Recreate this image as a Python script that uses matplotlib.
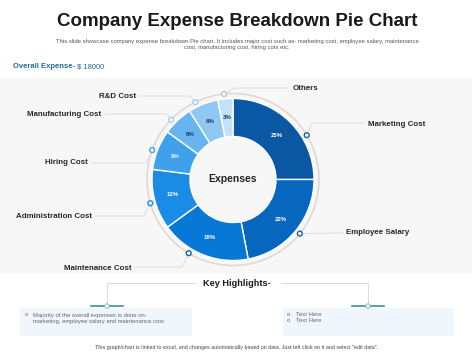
import numpy as np
import matplotlib
matplotlib.use('Agg')
import matplotlib.pyplot as plt
from matplotlib.patches import Rectangle, Circle

plt.rcParams['font.family'] = ['Liberation Sans', 'DejaVu Sans']

# data, clockwise from 12 o'clock
categories = ['Marketing Cost', 'Employee Salary', 'Maintenance Cost', 'Administration Cost',
              'Hiring Cost', 'Manufacturing Cost', 'R&D Cost', 'Others']
shares = [25, 22, 18, 12, 8, 6, 6, 3]
total_expense = 18000
colors = ['#0a58a3', '#0766bd', '#0878d6', '#1a8ce6', '#3fa0ec', '#66b4f0', '#90c8f4', '#c3e1f8']
pct_colors = ['white', 'white', 'white', 'white', '#eaf4fc', '#1d3b5e', '#1d3b5e', '#1d3b5e']

W, H = 474, 355
def Y(y):
    # pixel-from-top -> axes coordinate
    return H - y

cx, cy = 233, Y(179.5)
R, R_in, R_ring = 81, 43, 86

# label layout: dot angle (deg clockwise from top), elbow, line end, text anchor
dot_ang = [59, 129, 211, 254, 290, 314, 334, 354]
elbows = [(312, 123), None, (182, 267), (144, 216), (146, 163), (167, 114), (190, 96), (235, 88)]
line_end = [(365, 123), (343, 233), (134, 267), (95, 216), (91, 163), (105, 114), (139, 96), (288, 88)]
text_pos = [(368, 124, 'left'), (346, 233, 'left'), (132, 268, 'right'), (92, 217, 'right'),
            (88, 163, 'right'), (101, 115, 'right'), (136, 96, 'right'), (293, 88, 'left')]

fig = plt.figure(figsize=(W / 100, H / 100), dpi=100)
ax = fig.add_axes([0, 0, 1, 1])

# grey panel behind chart
ax.add_patch(Rectangle((0, Y(273)), 472, 195, color='#f7f7f7', lw=0, zorder=0))

wedges, texts, autotexts = ax.pie(
    shares, colors=colors, startangle=90, counterclock=False, radius=R,
    center=(cx, cy), wedgeprops=dict(width=R - R_in, edgecolor='white', linewidth=1),
    autopct=lambda p: f'{p:.0f}%', pctdistance=(R + R_in) / 2 / R,
    textprops=dict(fontsize=4.4, fontweight='bold'))
for t, c in zip(autotexts, pct_colors):
    t.set_color(c)

ax.add_patch(Circle((cx, cy), R_ring, fill=False, ec='#e2d8d2', lw=1.2, zorder=1))
ax.text(cx, cy, 'Expenses', ha='center', va='center', fontsize=7.5, fontweight='bold', color='#222222')

for i, name in enumerate(categories):
    a = np.deg2rad(dot_ang[i])
    dx, dy = cx + R_ring * np.sin(a), cy + R_ring * np.cos(a)
    pts = [(dx, dy)]
    if elbows[i] is not None:
        pts.append((elbows[i][0], Y(elbows[i][1])))
    pts.append((line_end[i][0], Y(line_end[i][1])))
    xs, ys = zip(*pts)
    ax.plot(xs, ys, color='#dcdcdc', lw=0.7, zorder=1)
    ec = colors[i] if i < 5 else '#a9cbe6'
    if i < 3:
        ec = '#1d5f96'
    ax.add_patch(Circle((dx, dy), 2.4, fc='white', ec=ec, lw=1.0, zorder=5))
    tx, ty, ha = text_pos[i]
    ax.text(tx, Y(ty), name, ha=ha, va='center', fontsize=5.7, fontweight='bold', color='#262626')

# header
ax.text(W / 2, Y(22), 'Company Expense Breakdown Pie Chart', ha='center', va='center',
        fontsize=13.5, fontweight='bold', color='#1a1a1a')
ax.text(W / 2, Y(41), 'This slide showcase company expense breakdown Pie chart. It includes major cost such as- '
        'marketing cost, employee salary, maintenance', ha='center', va='center', fontsize=4.25, color='#555555')
ax.text(W / 2, Y(48), 'cost, manufacturing cost, hiring cots etc.', ha='center', va='center',
        fontsize=4.25, color='#555555')
ax.text(13, Y(67), 'Overall Expense-', ha='left', va='center', fontsize=5.5,
        fontweight='bold', color='#1f6e97')
ax.text(77, Y(67), f'$ {total_expense}', ha='left', va='center', fontsize=5.5, color='#1f6e97')

# key highlights
ax.text(W / 2, Y(284), 'Key Highlights-', ha='center', va='center', fontsize=6.6,
        fontweight='bold', color='#1a1a1a')
for xv, x_in in [(107, 196), (368, 281)]:
    ax.plot([x_in, xv, xv], [Y(283), Y(283), Y(306)], color='#d6d6d6', lw=0.6, zorder=1)
    ax.plot([xv - 16, xv + 16], [Y(306), Y(306)], color='#3f8e9c', lw=1.2, zorder=2)
    ax.add_patch(Circle((xv, Y(306)), 2.2, fc='white', ec='#8fb3c4', lw=0.7, zorder=3))

ax.add_patch(Rectangle((20, Y(336)), 172, 28, color='#f0f7fc', lw=0, zorder=0))
ax.add_patch(Rectangle((283, Y(336)), 171, 28, color='#f0f7fc', lw=0, zorder=0))

box_txt = dict(ha='left', va='center', fontsize=4.2, color='#666666')
ax.text(25, Y(315), 'o', **box_txt)
ax.text(33, Y(315), 'Majority of the overall expenses is done on-', **box_txt)
ax.text(33, Y(322), 'marketing, employee salary and maintenance cost', **box_txt)
for yv in (314, 321):
    ax.text(287, Y(yv), 'o', **box_txt)
    ax.text(296, Y(yv), 'Text Here', **box_txt)

ax.text(W / 2, Y(348), 'This graph/chart is linked to excel, and changes automatically based on data. '
        'Just left click on it and select "edit data".', ha='center', va='center', fontsize=3.9, color='#444444')

ax.set_xlim(0, W)
ax.set_ylim(0, H)
ax.set_aspect('equal')
ax.axis('off')
fig.savefig('out.png', dpi=100, facecolor='white')
